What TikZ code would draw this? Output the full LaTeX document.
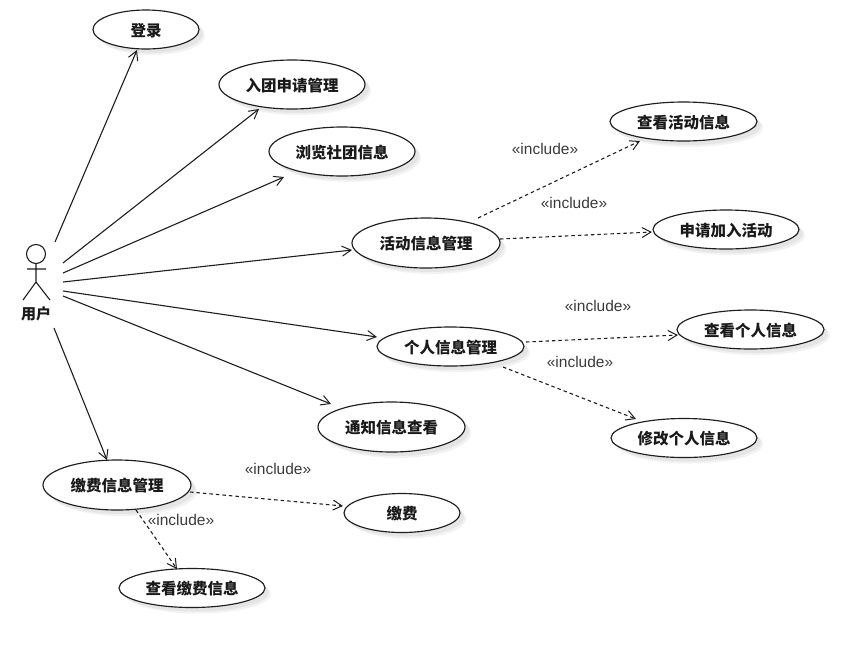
\documentclass[tikz,border=0pt]{standalone}
\usepackage{fontspec}
\setmainfont{Liberation Sans}
\newfontfamily\cjkb{Noto Sans CJK SC}
\usetikzlibrary{arrows.meta,shadows,shapes.geometric,calc}
\definecolor{ink}{HTML}{1E1E1E}
\definecolor{labelgrey}{HTML}{3A3A3A}
\tikzset{
  usecase/.style n args={2}{ellipse,draw=ink,line width=1.15pt,fill=white,inner sep=0pt,
    minimum width=#1pt,minimum height=#2pt,font=\cjkb\bfseries\fontsize{15.5}{18}\selectfont,text=black!90,
    text height=15.6pt,text depth=1.9pt,
    drop shadow={shadow xshift=6pt,shadow yshift=-6pt,fill=black!5,draw=none,opacity=1},
    drop shadow={shadow xshift=4pt,shadow yshift=-4pt,fill=black!10,draw=none,opacity=1}},
  assoc/.style={draw=ink,line width=1.1pt,-{Straight Barb[length=9pt,width=10pt,line width=1pt]}},
  incl/.style={draw=ink,line width=1.1pt,dash pattern=on 3.5pt off 3pt,-{Straight Barb[length=9pt,width=10pt,line width=1pt]}},
  stereo/.style={font=\fontsize{15.5}{18}\selectfont,text=labelgrey,inner sep=0pt},
  stick/.style={draw=ink,line width=1.1pt},
  actorlabel/.style={font=\cjkb\bfseries\fontsize{15}{18}\selectfont,text=black!90,inner sep=0pt}
}
\begin{document}
\begin{tikzpicture}[x=1pt,y=-1pt]
\useasboundingbox (0,0) rectangle (865,649);
% actor
\node[stick,circle,minimum size=19pt,inner sep=0pt] (head) at (36,254) {};
\coordinate (neck) at (36,263.5);
\coordinate (hip) at (36,282);
\coordinate (armL) at (27,269);
\coordinate (armR) at (46,269);
\coordinate (legL) at (23,300);
\coordinate (legR) at (50,300);
\draw[stick] (neck) -- (hip) (armL) -- (armR) (legL) -- (hip) -- (legR);
\node[actorlabel] (user) at (36,314) {用户};
% actor connector ends
\coordinate (a1) at (55,242);
\coordinate (a2) at (63,263);
\coordinate (a3) at (63,273);
\coordinate (a4) at (63,282);
\coordinate (a5) at (63,291);
\coordinate (a6) at (63,296);
\coordinate (a7) at (54,328);
% use cases
\node[usecase={106}{39}] (login) at (146,29.5) {登录};
\node[usecase={146}{49}] (join) at (292,84.5) {入团申请管理};
\node[usecase={146}{49}] (browse) at (342,151.5) {浏览社团信息};
\node[usecase={148}{50}] (act) at (426,243) {活动信息管理};
\node[usecase={147}{39}] (actview) at (683.5,121.5) {查看活动信息};
\node[usecase={146}{39}] (actjoin) at (726,229.5) {申请加入活动};
\node[usecase={147}{39}] (info) at (450.5,346.5) {个人信息管理};
\node[usecase={147}{39}] (infoview) at (750.5,329.5) {查看个人信息};
\node[usecase={146}{39}] (infoedit) at (684,438) {修改个人信息};
\node[usecase={147}{50}] (notice) at (391.5,427) {通知信息查看};
\node[usecase={148}{50}] (fee) at (117,485) {缴费信息管理};
\node[usecase={116}{39}] (pay) at (402,513) {缴费};
\node[usecase={146}{39}] (feeview) at (192,588) {查看缴费信息};
% associations
\draw[assoc] (a1) -- ($(login)+(-9,20.5)$);
\draw[assoc] (a2) -- ($(join)+(-33,24.5)$);
\draw[assoc] (a3) -- ($(browse)+(-58,25.5)$);
\draw[assoc] (a4) -- ($(act)+(-74,7)$);
\draw[assoc] (a5) -- ($(info)+(-73.5,-9.5)$);
\draw[assoc] (a6) -- ($(notice)+(-60.5,-23)$);
\draw[assoc] (a7) -- ($(fee)+(-10,-25)$);
% includes
\draw[incl] ($(act)+(52,-25)$) -- ($(actview)+(-43.5,19.5)$);
\draw[incl] ($(act)+(74,-4)$) -- ($(actjoin)+(-74,2.5)$);
\draw[incl] ($(info)+(75.5,-4.5)$) -- ($(infoview)+(-72.5,5.5)$);
\draw[incl] ($(info)+(52.5,20.5)$) -- ($(infoedit)+(-48,-19)$);
\draw[incl] ($(fee)+(73,7)$) -- ($(pay)+(-59,-7)$);
\draw[incl] ($(fee)+(19,25)$) -- ($(feeview)+(-15,-19)$);
% labels
\node[stereo] (l1) at (545,149) {«include»};
\node[stereo] (l2) at (574,203) {«include»};
\node[stereo] (l3) at (598,306) {«include»};
\node[stereo] (l4) at (580,362) {«include»};
\node[stereo] (l5) at (278,469) {«include»};
\node[stereo] (l6) at (181,520) {«include»};
\end{tikzpicture}
\end{document}
